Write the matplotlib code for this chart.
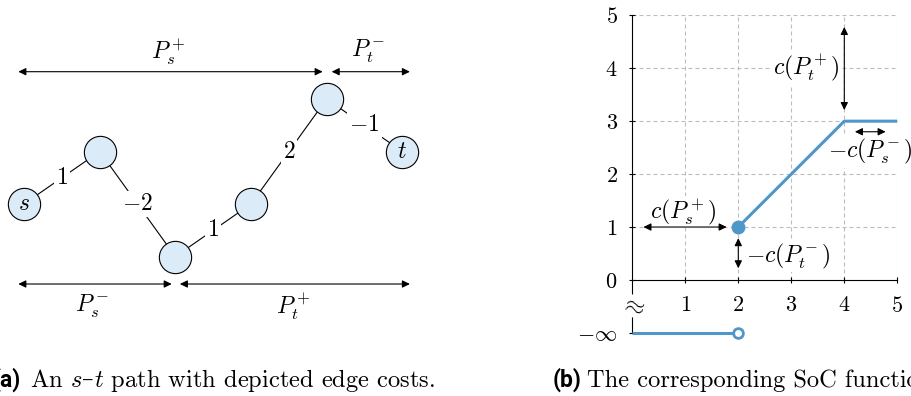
import numpy as np
import matplotlib
matplotlib.use('Agg')
import matplotlib.pyplot as plt
from matplotlib.patches import FancyArrowPatch

plt.rcParams['mathtext.fontset'] = 'cm'
plt.rcParams['font.family'] = ['cmr10', 'DejaVu Serif']
plt.rcParams['axes.unicode_minus'] = False

# ---------------- data ----------------
# panel (a): path s -> t with edge costs
edge_costs = [1, -2, 1, 2, -1]
node_labels = ['$s$', '', '', '', '', '$t$']
edge_labels = ['$1$', '$-2$', '$1$', '$2$', '$-1$']
span_labels_top = [r'$P_s^+$', r'$P_t^-$']
span_labels_bottom = [r'$P_s^-$', r'$P_t^+$']

# panel (b): SoC function
soc_x = [2, 4, 5]
soc_y = [1, 3, 3]
neginf_x = [0, 2]
x_ticks = [1, 2, 3, 4, 5]
y_ticks = [-1, 0, 1, 2, 3, 4, 5]
y_tick_labels = [r'$-\infty$', '$0$', '$1$', '$2$', '$3$', '$4$', '$5$']
x_tick_labels = ['$1$', '$2$', '$3$', '$4$', '$5$']

BLUE = '#4f96c9'
NODE_FILL = '#dcebf8'
W, H = 911, 396

fig = plt.figure(figsize=(W / 100, H / 100), dpi=100)

# ---------------- panel (a) ----------------
sx, sy = 24.0, 204.0      # pixel position of s
dx, dy = 75.67, 52.5      # pixels per step / per cost unit
ax = fig.add_axes([0, 0, 1, 1])
ax.set_xlim(-sx / dx, (W - sx) / dx)
ax.set_ylim((sy - H) / dy, sy / dy)
ax.axis('off')

node_x = np.arange(len(edge_costs) + 1)
node_y = np.concatenate([[0], np.cumsum(edge_costs)])

ax.plot(node_x, node_y, color='black', lw=0.8, zorder=1)
for i, lab in enumerate(edge_labels):
    mx = (node_x[i] + node_x[i + 1]) / 2
    my = (node_y[i] + node_y[i + 1]) / 2
    ax.text(mx, my, lab, ha='center', va='center', fontsize=17, zorder=2,
            bbox=dict(boxstyle='square,pad=0.08', fc='white', ec='none'))
ax.scatter(node_x, node_y, s=540, facecolor=NODE_FILL, edgecolor='black',
           linewidth=0.8, zorder=3)
for x, y, lab in zip(node_x, node_y, node_labels):
    if lab:
        ax.text(x, y, lab, ha='center', va='center', fontsize=17, zorder=4)

def darrow(axes, p0, p1, lw=0.8):
    a = FancyArrowPatch(p0, p1, arrowstyle='<|-|>,head_length=0.45,head_width=0.22',
                        mutation_scale=10, lw=lw, color='black',
                        shrinkA=0, shrinkB=0, zorder=5, clip_on=False)
    axes.add_patch(a)

top_y, bot_y = 2.52, -1.524
darrow(ax, (-0.075, top_y), (3.947, top_y))
darrow(ax, (4.066, top_y), (5.10, top_y))
darrow(ax, (-0.075, bot_y), (1.952, bot_y))
darrow(ax, (2.06, bot_y), (5.10, bot_y))
ax.text(1.903, 2.90, span_labels_top[0], ha='center', va='center', fontsize=17)
ax.text(4.546, 2.90, span_labels_top[1], ha='center', va='center', fontsize=17)
ax.text(0.895, -1.956, span_labels_bottom[0], ha='center', va='center', fontsize=17)
ax.text(3.555, -1.956, span_labels_bottom[1], ha='center', va='center', fontsize=17)

# ---------------- panel (b) ----------------
x0px, x5px = 632.3, 897.3
y5px, ym1px = 15.3, 332.9
ax2 = fig.add_axes([x0px / W, (H - ym1px) / H, (x5px - x0px) / W, (ym1px - y5px) / H])
ax2.set_facecolor('none')
ax2.set_xlim(0, 5)
ax2.set_ylim(-1, 5)
for sp in ['top', 'right']:
    ax2.spines[sp].set_visible(False)
ax2.spines['bottom'].set_position(('data', 0))
ax2.spines['left'].set_linewidth(0.8)
ax2.spines['bottom'].set_linewidth(0.8)
ax2.set_xticks(x_ticks)
ax2.set_xticklabels(x_tick_labels)
ax2.set_yticks(y_ticks)
ax2.set_yticklabels(y_tick_labels)
ax2.tick_params(axis='both', direction='inout', length=5, width=0.8, labelsize=16)
ax2.tick_params(axis='y', pad=8)
ax2.tick_params(axis='x', pad=9)

# grid (only in the non-negative region)
for x in x_ticks:
    ax2.plot([x, x], [0, 5], ls=(0, (3.6, 2.7)), color='#bdbdbd', lw=0.8, zorder=0)
for y in y_ticks[2:]:
    ax2.plot([0, 5], [y, y], ls=(0, (3.6, 2.7)), color='#bdbdbd', lw=0.8, zorder=0)

ax2.plot(soc_x, soc_y, color=BLUE, lw=2.2, zorder=4, solid_capstyle='butt', clip_on=False)
ax2.plot(soc_x[0], soc_y[0], 'o', ms=9, color=BLUE, zorder=5, clip_on=False)
ax2.plot(neginf_x, [-1, -1], color=BLUE, lw=2.2, zorder=4, solid_capstyle='butt', clip_on=False)
ax2.plot(neginf_x[1], -1, 'o', ms=7, mfc='white', mec=BLUE, mew=2, zorder=5, clip_on=False)

# axis break symbol
ax2.text(0, -0.49, r'$\approx$', ha='center', va='center', fontsize=18, zorder=6,
         rotation=-15,
         bbox=dict(boxstyle='square,pad=0.0', fc='white', ec='none'))

lbl_box = dict(boxstyle='square,pad=0.05', fc='white', ec='none')
darrow(ax2, (4, 4.78), (4, 3.21))
ax2.text(3.29, 4.0, r'$c(P_t^+)$', ha='center', va='center', fontsize=17, bbox=lbl_box, zorder=3)
darrow(ax2, (4.2, 2.8), (4.78, 2.8))
ax2.text(4.485, 2.42, r'$-c(P_s^-)$', ha='center', va='center', fontsize=17, bbox=lbl_box, zorder=3)
darrow(ax2, (0.21, 1), (1.78, 1))
ax2.text(0.96, 1.29, r'$c(P_s^+)$', ha='center', va='center', fontsize=17, bbox=lbl_box, zorder=3)
darrow(ax2, (2, 0.79), (2, 0.22))
ax2.text(2.94, 0.44, r'$-c(P_t^-)$', ha='center', va='center', fontsize=17, bbox=lbl_box, zorder=3)

# ---------------- captions ----------------
base = (H - 387) / H
CAP_FS = 17.6
renderer = fig.canvas.get_renderer()

def chain(x_px, pieces):
    """Draw consecutive text pieces on the caption baseline."""
    for txt, kw in pieces:
        t = fig.text(x_px / W, base, txt, va='baseline', **kw)
        x_px = t.get_window_extent(renderer).x1
    return x_px

fig.text(-7 / W, base, '(a)', fontsize=16.5, fontweight='bold', family=['Roboto'], va='baseline')
chain(30, [('An $s$', dict(fontsize=CAP_FS)),
           ('\u2013', dict(fontsize=CAP_FS - 1, family=['DejaVu Serif'])),
           ('$t$ path with depicted edge costs.', dict(fontsize=CAP_FS))])
fig.text(553 / W, base, '(b)', fontsize=16.5, fontweight='bold', family=['Roboto'], va='baseline')
fig.text(586.7 / W, base, 'The corresponding SoC function.', fontsize=CAP_FS, va='baseline')

fig.savefig('out.png', dpi=100)
